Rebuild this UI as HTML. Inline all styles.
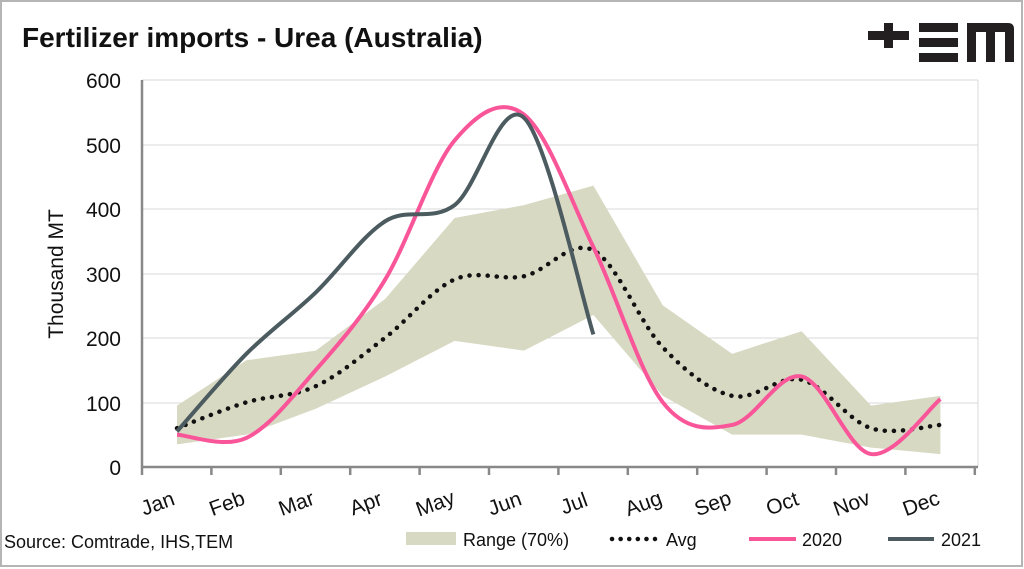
<!DOCTYPE html>
<html><head><meta charset="utf-8"><style>
body{margin:0;background:#fff;}
svg{display:block;font-family:"Liberation Sans",sans-serif;}
</style></head><body>
<svg id="s" width="1024" height="569" viewBox="0 0 1024 569">
<rect x="1" y="1" width="1021" height="565" fill="#fff" stroke="#b5b5b5" stroke-width="2"/>
<text x="22" y="47" font-size="28" font-weight="bold" fill="#111">Fertilizer imports - Urea (Australia)</text>
<g fill="#231f20">
<rect x="868" y="31" width="41" height="9"/><rect x="884" y="23" width="9" height="25"/>
<rect x="919" y="23" width="39" height="9"/><rect x="919" y="38" width="39" height="9"/><rect x="919" y="53" width="39" height="9"/>
<path d="M967 23 H1008 Q1014 23 1014 29 V62 H1005 V32 H995 V62 H986 V32 H976 V62 H967 Z"/>
</g>
<g stroke="#d9d9d9" stroke-width="1">
<line x1="142" y1="80" x2="978" y2="80"/><line x1="142" y1="145" x2="978" y2="145"/>
<line x1="142" y1="209" x2="978" y2="209"/><line x1="142" y1="274" x2="978" y2="274"/>
<line x1="142" y1="338" x2="978" y2="338"/><line x1="142" y1="403" x2="978" y2="403"/>
<line x1="978" y1="80" x2="978" y2="467"/>
</g>
<g id="plot"></g>
<g stroke="#888" stroke-width="2.5" fill="none">
<line x1="142" y1="80" x2="142" y2="467"/><line x1="141" y1="467" x2="978" y2="467"/>
</g>
<g id="ticks" stroke="#888" stroke-width="2.5"></g>
<g font-size="21" fill="#111" text-anchor="end">
<text x="121" y="88">600</text><text x="121" y="153">500</text><text x="121" y="217">400</text>
<text x="121" y="282">300</text><text x="121" y="346">200</text><text x="121" y="411">100</text><text x="121" y="475">0</text>
</g>
<text transform="translate(63 274) rotate(-90)" font-size="21" text-anchor="middle" fill="#111">Thousand MT</text>
<g id="months" font-size="21" fill="#111"></g>
<text x="4" y="548" font-size="18" fill="#111">Source: Comtrade, IHS,TEM</text>
<rect x="406" y="532" width="50" height="13" fill="#d8d9c3"/>
<text x="463" y="546" font-size="18" fill="#111">Range (70%)</text>
<line x1="612" y1="539" x2="655" y2="539" stroke="#111" stroke-width="4.5" stroke-dasharray="0.1 8.5" stroke-linecap="round"/>
<text x="666" y="546" font-size="18" fill="#111">Avg</text>
<line x1="749" y1="539" x2="796" y2="539" stroke="#f9569a" stroke-width="4"/>
<text x="802" y="546" font-size="18" fill="#111">2020</text>
<line x1="888" y1="539" x2="934" y2="539" stroke="#4b5b5f" stroke-width="4"/>
<text x="941" y="546" font-size="18" fill="#111">2021</text>
</svg>
<script>
var X=function(i){return 177+i*69.4},Y=function(v){return 467-v*0.6467};
function pts(a){return a.map(function(v,i){return[X(i),Y(v)]})}
function sm(p){var d="M"+p[0][0]+" "+p[0][1];for(var i=0;i<p.length-1;i++){var p0=p[i-1]||p[i],p1=p[i],p2=p[i+1],p3=p[i+2]||p2;
d+=" C"+(p1[0]+(p2[0]-p0[0])/6)+" "+(p1[1]+(p2[1]-p0[1])/6)+" "+(p2[0]-(p3[0]-p1[0])/6)+" "+(p2[1]-(p3[1]-p1[1])/6)+" "+p2[0]+" "+p2[1];}return d}
var up=[95,165,180,260,385,405,435,250,175,210,95,110],lo=[35,50,90,140,195,180,235,110,50,50,30,20];
var u=pts(up),l=pts(lo).reverse();
var band="M"+u.map(function(p){return p.join(" ")}).join(" L")+" L"+l.map(function(p){return p.join(" ")}).join(" L")+"Z";
var h='<path d="'+band+'" fill="#d8d9c3"/>';
h+='<path d="'+sm(pts([60,100,125,200,290,295,335,185,110,135,60,65]))+'" fill="none" stroke="#111" stroke-width="4.5" stroke-dasharray="0.1 9" stroke-linecap="round"/>';
h+='<path d="'+sm(pts([50,45,150,290,505,545,340,100,65,140,20,105]))+'" fill="none" stroke="#f9569a" stroke-width="4"/>';
h+='<path d="'+sm(pts([55,175,270,380,405,540,205]))+'" fill="none" stroke="#4b5b5f" stroke-width="4"/>';
document.getElementById("plot").innerHTML=h;
var t="",m="",n=["Jan","Feb","Mar","Apr","May","Jun","Jul","Aug","Sep","Oct","Nov","Dec"];
for(var i=0;i<=12;i++){var x=142+i*69.4;t+='<line x1="'+x+'" y1="467" x2="'+x+'" y2="475"/>';}
for(var i=0;i<12;i++){m+='<text transform="translate('+(X(i)-17)+' 510) rotate(-20)" text-anchor="middle">'+n[i]+'</text>';}
document.getElementById("ticks").innerHTML=t;document.getElementById("months").innerHTML=m;
</script>
</body></html>
